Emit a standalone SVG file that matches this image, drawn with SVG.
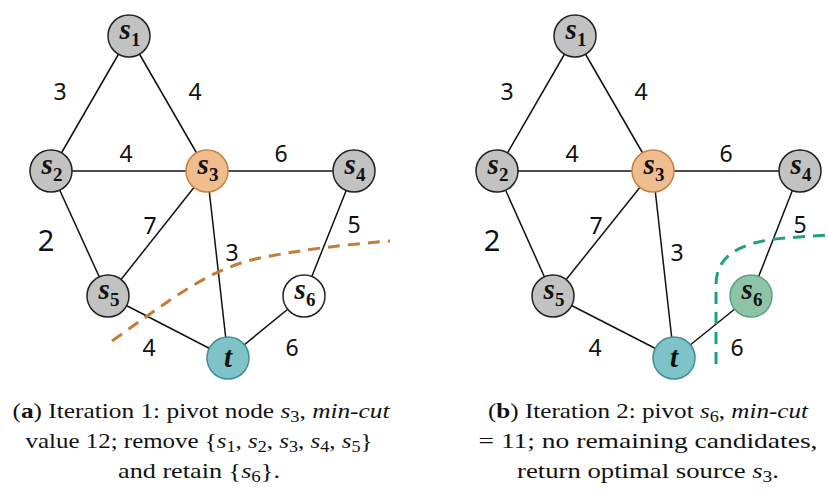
<svg xmlns="http://www.w3.org/2000/svg" width="828" height="493" viewBox="0 0 828 493">
<style>
.edge{stroke:#111;stroke-width:1.5;fill:none}
.w{font-family:"Noto Sans","Liberation Sans",sans-serif;font-size:23px;fill:#111;text-anchor:middle}
.w2{font-size:29px}
.node{stroke:#222;stroke-width:1.5}
.gray{fill:#c2c2c2}
.piv{fill:#efbd8e;stroke:#c9803f}
.tt{fill:#7ec3c7;stroke:#3f8e95}
.wh{fill:#fff}
.gr{fill:#8ec4a6;stroke:#5aa283}
.lab{font-family:"Liberation Serif","DejaVu Serif",serif;fill:#111;text-anchor:middle;font-weight:bold}
.s{font-style:italic;font-size:29px}
.sub{font-size:19px}
.cap{font-family:"Liberation Serif","DejaVu Serif",serif;font-size:22px;fill:#111;text-anchor:middle}
.cs{font-size:16px}
.it{font-style:italic}
.cutA{stroke:#c47c36;stroke-width:3;fill:none;stroke-dasharray:12 8}
.cutB{stroke:#1fa274;stroke-width:3;fill:none;stroke-dasharray:12 8}
</style>

<g id="connectors">
  <g id="edges-a">
    <line class="edge" x1="129" y1="36" x2="51" y2="171"/>
    <line class="edge" x1="129" y1="36" x2="207" y2="171"/>
    <line class="edge" x1="51" y1="171" x2="207" y2="171"/>
    <line class="edge" x1="207" y1="171" x2="354" y2="171"/>
    <line class="edge" x1="51" y1="171" x2="108" y2="296"/>
    <line class="edge" x1="207" y1="171" x2="108" y2="296"/>
    <line class="edge" x1="207" y1="171" x2="228" y2="358"/>
    <line class="edge" x1="354" y1="171" x2="304" y2="296"/>
    <line class="edge" x1="108" y1="296" x2="228" y2="358"/>
    <line class="edge" x1="304" y1="296" x2="228" y2="358"/>
  </g>
  <g id="edges-b">
    <line class="edge" x1="575" y1="36" x2="497" y2="171"/>
    <line class="edge" x1="575" y1="36" x2="653" y2="171"/>
    <line class="edge" x1="497" y1="171" x2="653" y2="171"/>
    <line class="edge" x1="653" y1="171" x2="800" y2="171"/>
    <line class="edge" x1="497" y1="171" x2="553" y2="296"/>
    <line class="edge" x1="653" y1="171" x2="553" y2="296"/>
    <line class="edge" x1="653" y1="171" x2="674" y2="358"/>
    <line class="edge" x1="800" y1="171" x2="751" y2="296"/>
    <line class="edge" x1="553" y1="296" x2="674" y2="358"/>
    <line class="edge" x1="751" y1="296" x2="674" y2="358"/>
  </g>
</g>

<g id="weights-a">
  <text class="w" x="60" y="100">3</text>
  <text class="w" x="195" y="100">4</text>
  <text class="w" x="126" y="162">4</text>
  <text class="w" x="281" y="162">6</text>
  <text class="w w2" x="46" y="251">2</text>
  <text class="w" x="150" y="234">7</text>
  <text class="w" x="232" y="261">3</text>
  <text class="w" x="354" y="233">5</text>
  <text class="w" x="149" y="356">4</text>
  <text class="w" x="292" y="356">6</text>
</g>
<g id="weights-b">
  <text class="w" x="507" y="100">3</text>
  <text class="w" x="641" y="100">4</text>
  <text class="w" x="572" y="162">4</text>
  <text class="w" x="726" y="162">6</text>
  <text class="w w2" x="492" y="251">2</text>
  <text class="w" x="596" y="234">7</text>
  <text class="w" x="677" y="261">3</text>
  <text class="w" x="800" y="233">5</text>
  <text class="w" x="595" y="356">4</text>
  <text class="w" x="737" y="356">6</text>
</g>

<g id="a-s1"><circle class="node gray" cx="129" cy="36" r="21"/><text class="lab" x="130" y="39"><tspan class="s">s</tspan><tspan class="sub" dy="7">1</tspan></text></g>
<g id="a-s2"><circle class="node gray" cx="51" cy="171" r="21"/><text class="lab" x="52" y="174"><tspan class="s">s</tspan><tspan class="sub" dy="7">2</tspan></text></g>
<g id="a-s3"><circle class="node piv" cx="207" cy="171" r="21"/><text class="lab" x="208" y="174"><tspan class="s">s</tspan><tspan class="sub" dy="7">3</tspan></text></g>
<g id="a-s4"><circle class="node gray" cx="354" cy="171" r="21"/><text class="lab" x="355" y="174"><tspan class="s">s</tspan><tspan class="sub" dy="7">4</tspan></text></g>
<g id="a-s5"><circle class="node gray" cx="108" cy="296" r="21"/><text class="lab" x="109" y="299"><tspan class="s">s</tspan><tspan class="sub" dy="7">5</tspan></text></g>
<g id="a-s6"><circle class="node wh" cx="304" cy="296" r="21"/><text class="lab" x="305" y="299"><tspan class="s">s</tspan><tspan class="sub" dy="7">6</tspan></text></g>
<g id="a-t"><circle class="node tt" cx="228" cy="358" r="21"/><text class="lab s" x="228" y="367">t</text></g>

<g id="b-s1"><circle class="node gray" cx="575" cy="36" r="21"/><text class="lab" x="576" y="39"><tspan class="s">s</tspan><tspan class="sub" dy="7">1</tspan></text></g>
<g id="b-s2"><circle class="node gray" cx="497" cy="171" r="21"/><text class="lab" x="498" y="174"><tspan class="s">s</tspan><tspan class="sub" dy="7">2</tspan></text></g>
<g id="b-s3"><circle class="node piv" cx="653" cy="171" r="21"/><text class="lab" x="654" y="174"><tspan class="s">s</tspan><tspan class="sub" dy="7">3</tspan></text></g>
<g id="b-s4"><circle class="node gray" cx="800" cy="171" r="21"/><text class="lab" x="801" y="174"><tspan class="s">s</tspan><tspan class="sub" dy="7">4</tspan></text></g>
<g id="b-s5"><circle class="node gray" cx="553" cy="296" r="21"/><text class="lab" x="554" y="299"><tspan class="s">s</tspan><tspan class="sub" dy="7">5</tspan></text></g>
<g id="b-s6"><circle class="node gr" cx="751" cy="296" r="21"/><text class="lab" x="752" y="299"><tspan class="s">s</tspan><tspan class="sub" dy="7">6</tspan></text></g>
<g id="b-t"><circle class="node tt" cx="674" cy="358" r="21"/><text class="lab s" x="674" y="367">t</text></g>

<path id="cut-a" class="cutA" d="M112,341 C170,300 210,268 260,258 C300,250 340,245 390,241"/>
<path id="cut-b" class="cutB" d="M716,364 L716,285 C716,255 740,242 785,238 L828,235"/>

<g id="caption-a">
  <text class="cap" x="201" y="418" textLength="377" lengthAdjust="spacingAndGlyphs">(<tspan font-weight="bold">a</tspan>) Iteration 1: pivot node <tspan class="it">s</tspan><tspan class="cs" dy="4">3</tspan><tspan dy="-4">, </tspan><tspan class="it">min-cut</tspan></text>
  <text class="cap" x="199" y="448" textLength="347" lengthAdjust="spacingAndGlyphs">value 12; remove {<tspan class="it">s</tspan><tspan class="cs" dy="4">1</tspan><tspan dy="-4">, </tspan><tspan class="it">s</tspan><tspan class="cs" dy="4">2</tspan><tspan dy="-4">, </tspan><tspan class="it">s</tspan><tspan class="cs" dy="4">3</tspan><tspan dy="-4">, </tspan><tspan class="it">s</tspan><tspan class="cs" dy="4">4</tspan><tspan dy="-4">, </tspan><tspan class="it">s</tspan><tspan class="cs" dy="4">5</tspan><tspan dy="-4">}</tspan></text>
  <text class="cap" x="199" y="478" textLength="162" lengthAdjust="spacingAndGlyphs">and retain {<tspan class="it">s</tspan><tspan class="cs" dy="4">6</tspan><tspan dy="-4">}.</tspan></text>
</g>
<g id="caption-b">
  <text class="cap" x="648" y="418" textLength="320" lengthAdjust="spacingAndGlyphs">(<tspan font-weight="bold">b</tspan>) Iteration 2: pivot <tspan class="it">s</tspan><tspan class="cs" dy="4">6</tspan><tspan dy="-4">, </tspan><tspan class="it">min-cut</tspan></text>
  <text class="cap" x="648" y="448" textLength="339" lengthAdjust="spacingAndGlyphs">= 11; no remaining candidates,</text>
  <text class="cap" x="648" y="478" textLength="262" lengthAdjust="spacingAndGlyphs">return optimal source <tspan class="it">s</tspan><tspan class="cs" dy="4">3</tspan><tspan dy="-4">.</tspan></text>
</g>
</svg>
